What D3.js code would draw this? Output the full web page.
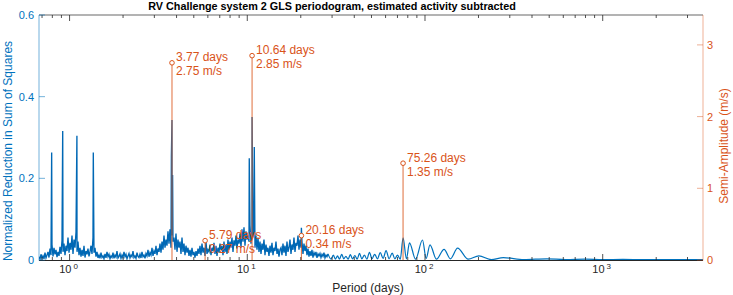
<!DOCTYPE html>
<html>
<head>
<meta charset="utf-8">
<script src="https://cdn.jsdelivr.net/npm/d3@7"></script>
<style>
  body { margin: 0; background: #fff; }
  text { font-family: 'Liberation Sans', Arial, Helvetica, sans-serif; }
</style>
</head>
<body>
<svg width="733" height="295"></svg>
<script>
'use strict'

// periodogram noise floor, thousandths, sampled evenly in log period
const noiseStart = 0.673,
  noiseEnd = 28.45
const noisePower = [
  8, 2, 14, 4, 10, 3, 18, 5, 12, 20,
  6, 28, 12, 38, 9, 30, 14, 25, 7, 20,
  10, 32, 15, 48, 20, 40, 12, 35, 22, 55,
  18, 42, 25, 60, 15, 50, 30, 68, 20, 45,
  12, 30, 8, 25, 10, 35, 6, 22, 14, 28,
  9, 20, 35, 15, 55, 18, 30, 8, 20, 5,
  12, 4, 18, 6, 10, 3, 15, 5, 20, 8,
  14, 3, 10, 6, 18, 4, 12, 7, 22, 5,
  9, 15, 4, 12, 6, 20, 8, 14, 3, 10,
  16, 5, 12, 8, 22, 6, 10, 4, 18, 9,
  6, 14, 5, 20, 8, 12, 4, 16, 10, 25,
  8, 18, 12, 30, 10, 22, 15, 35, 12, 28,
  20, 40, 18, 45, 25, 60, 30, 50, 35, 70,
  40, 75, 30, 60, 45, 55, 25, 65, 20, 50,
  30, 45, 15, 55, 20, 40, 12, 35, 18, 30,
  10, 25, 8, 30, 12, 20, 6, 22, 10, 28,
  15, 35, 12, 40, 18, 30, 10, 45, 15, 25,
  20, 38, 12, 30, 22, 42, 15, 35, 10, 30,
  18, 40, 25, 35, 12, 45, 20, 38, 15, 50,
  25, 45, 30, 55, 20, 48, 35, 60, 28, 50,
  40, 65, 30, 75, 45, 80, 35, 70, 50, 60,
  45, 85, 40, 70, 55, 80, 30, 60, 25, 55,
  20, 45, 15, 40, 25, 50, 12, 38, 20, 30,
  10, 35, 18, 42, 12, 30, 22, 45, 15, 28,
  8, 25, 30, 12, 40, 18, 35, 10, 45, 20,
  30, 50, 15, 38, 25, 55, 20, 42, 35, 60,
  25, 50, 30, 45, 15, 40, 22, 35, 12, 28,
  8, 22, 10, 25, 6, 18, 12, 20, 5, 15,
  10, 16, 6, 14, 9, 18, 5, 12, 8, 15
]

// narrow peaks in the periodogram
const spikePeriods = [0.793, 0.915, 1.10, 1.36, 3.74, 3.77, 3.80, 10.26, 10.64, 10.95, 20.16]
const spikePowers = [0.263, 0.316, 0.304, 0.263, 0.253, 0.343, 0.208, 0.249, 0.35, 0.277, 0.079]

// smooth long-period part (peaks and troughs)
const smoothPeriods = [
  28.45, 29.6, 30.5, 31.3, 32.2, 33.0, 34.0, 34.9, 35.9, 36.9, 38.0, 39.1,
  40.3, 41.5, 42.8, 44.1, 45.6, 47.1, 48.7, 50.3, 52.1, 54.0, 56.0, 58.1,
  60.4, 62.8, 65.4, 67.6, 70.0, 72.6, 75.3, 78.6, 81.8, 88.5, 96.8, 101.5,
  106.7, 116, 128, 139, 152.5, 175, 201, 236, 276, 360, 484, 620, 800,
  1000, 1300, 1700, 2200, 2900, 3667
]
const smoothPower = [
  15, 2, 12, 2, 10, 2, 14, 3, 9, 2, 13, 3,
  11, 2, 16, 3, 12, 2, 19, 3, 14, 3, 18, 4,
  23, 3, 17, 3, 12, 2, 54, 3, 42, 2, 49, 4,
  37, 2, 26, 3, 29, 2, 10, 1, 6, 1, 3, 1, 2,
  1, 1.5, 1, 1, 1, 1
]

// fitted signals
const stemPeriods = [3.77, 5.79, 10.64, 20.16, 75.26]
const stemAmps = [2.75, 0.27, 2.85, 0.34, 1.35]

const leftTicks = [0, 0.2, 0.4, 0.6]
const rightTicks = [0, 1, 2, 3]
const decades = [0, 1, 2, 3]

const blue = '#0072BD',
  orange = '#D95319',
  dark = '#262626'

const margin = { top: 15, right: 30, bottom: 35, left: 39 }
const W = 733,
  H = 295
const x0 = margin.left,
  x1 = W - margin.right,
  y0 = H - margin.bottom,
  y1 = margin.top

const svg = d3.select('svg')

const xScale = d3.scaleLog().domain([0.673, 3667]).range([x0, x1])
const yLeft = d3.scaleLinear().domain([0, 0.6]).range([y0, y1])
const yRight = d3.scaleLinear().domain([0, 3.417]).range([y0, y1])

svg.append('defs').append('clipPath').attr('id', 'clip')
  .append('rect').attr('x', x0).attr('y', y1).attr('width', x1 - x0).attr('height', y0 - y1)

// build noisy part
let noisy = noisePower.map((v, i) => {
  const t = i / (noisePower.length - 1)
  const p = Math.exp(Math.log(noiseStart) + t * (Math.log(noiseEnd) - Math.log(noiseStart)))
  return { p: p, v: v / 1000 }
})
spikePeriods.forEach((p, i) => noisy.push({ p: p, v: spikePowers[i] }))
noisy.sort((a, b) => a.p - b.p)

const smooth = smoothPeriods.map((p, i) => ({ p: p, v: smoothPower[i] / 1000 }))

const plot = svg.append('g').attr('clip-path', 'url(#clip)')

plot.append('path')
  .datum(noisy)
  .attr('fill', 'none')
  .attr('stroke', '#0068B5')
  .attr('stroke-width', 1.35)
  .attr('stroke-linejoin', 'miter')
  .attr('d', d3.line().x(d => xScale(d.p)).y(d => yLeft(d.v)))

plot.append('path')
  .datum(smooth)
  .attr('fill', 'none')
  .attr('stroke', blue)
  .attr('stroke-width', 1.2)
  .attr('d', d3.line().curve(d3.curveMonotoneX).x(d => xScale(d.p)).y(d => yLeft(d.v)))

// stems
const stems = svg.append('g')
stemPeriods.forEach((p, i) => {
  const sx = xScale(p),
    sy = yRight(stemAmps[i])
  stems.append('line')
    .attr('x1', sx).attr('x2', sx).attr('y1', y0).attr('y2', sy)
    .attr('stroke', orange).attr('stroke-width', 1).attr('stroke-opacity', 0.85)
  stems.append('circle')
    .attr('cx', sx).attr('cy', sy).attr('r', 2.3)
    .attr('fill', '#fff').attr('stroke', orange).attr('stroke-width', 1)
  const t = stems.append('text')
    .attr('fill', orange).attr('font-size', 12)
  t.append('tspan').attr('x', sx + 4).attr('y', sy - 1.5).text(p.toFixed(2) + ' days')
  t.append('tspan').attr('x', sx + 4).attr('y', sy + 12.5).text(stemAmps[i].toFixed(2) + ' m/s')
})

// x ticks
const minor = []
for (let k = -1; k <= 3; k++) {
  for (let m = 2; m <= 9; m++) {
    const v = m * Math.pow(10, k)
    if (v > 0.673 && v < 3667) minor.push(v)
  }
}
const axes = svg.append('g')
minor.forEach(v => {
  const tx = xScale(v)
  axes.append('line').attr('x1', tx).attr('x2', tx).attr('y1', y0).attr('y2', y0 - 3).attr('stroke', dark).attr('stroke-width', 0.8)
  axes.append('line').attr('x1', tx).attr('x2', tx).attr('y1', y1).attr('y2', y1 + 3).attr('stroke', dark).attr('stroke-width', 0.8)
})
decades.forEach(k => {
  const tx = xScale(Math.pow(10, k))
  axes.append('line').attr('x1', tx).attr('x2', tx).attr('y1', y0).attr('y2', y0 - 6).attr('stroke', dark).attr('stroke-width', 0.8)
  axes.append('line').attr('x1', tx).attr('x2', tx).attr('y1', y1).attr('y2', y1 + 6).attr('stroke', dark).attr('stroke-width', 0.8)
  const t = axes.append('text')
    .attr('x', tx - 1).attr('y', y0 + 12.5)
    .attr('text-anchor', 'middle').attr('font-size', 11).attr('fill', dark)
  t.append('tspan').text('10')
  t.append('tspan').attr('dx', 2).attr('dy', -4).attr('font-size', 8).text(k)
})

// box lines
axes.append('line').attr('x1', x0).attr('x2', x1).attr('y1', y0 + 0.5).attr('y2', y0 + 0.5).attr('stroke', dark).attr('stroke-width', 1)
axes.append('line').attr('x1', x0).attr('x2', x1).attr('y1', y1).attr('y2', y1).attr('stroke', dark).attr('stroke-width', 0.7)
axes.append('line').attr('x1', x0).attr('x2', x0).attr('y1', y1).attr('y2', y0 + 0.5).attr('stroke', blue).attr('stroke-opacity', 0.55)
axes.append('line').attr('x1', x1).attr('x2', x1).attr('y1', y1).attr('y2', y0 + 0.5).attr('stroke', orange).attr('stroke-opacity', 0.45)

// left y ticks
leftTicks.forEach(v => {
  const ty = yLeft(v)
  axes.append('line').attr('x1', x0).attr('x2', x0 + 6).attr('y1', ty).attr('y2', ty).attr('stroke', blue).attr('stroke-opacity', 0.55)
  axes.append('text').attr('x', x0 - 5).attr('y', ty + 4)
    .attr('text-anchor', 'end').attr('font-size', 11).attr('fill', blue)
    .text(v === 0 ? '0' : v.toFixed(1))
})

// right y ticks
rightTicks.forEach(v => {
  const ty = yRight(v)
  axes.append('line').attr('x1', x1).attr('x2', x1 - 6).attr('y1', ty).attr('y2', ty).attr('stroke', orange).attr('stroke-opacity', 0.45)
  axes.append('text').attr('x', x1 + 4).attr('y', ty + 4)
    .attr('text-anchor', 'start').attr('font-size', 11).attr('fill', orange)
    .text(v)
})

// titles
svg.append('text')
  .attr('x', 332).attr('y', 9.5)
  .attr('text-anchor', 'middle').attr('font-size', 10.8).attr('font-weight', 'bold').attr('fill', '#000')
  .text('RV Challenge system 2 GLS periodogram, estimated activity subtracted')

svg.append('text')
  .attr('x', 368).attr('y', 292)
  .attr('text-anchor', 'middle').attr('font-size', 12).attr('fill', dark)
  .text('Period (days)')

svg.append('text')
  .attr('transform', 'translate(12,151) rotate(-90)')
  .attr('text-anchor', 'middle').attr('font-size', 12).attr('fill', blue)
  .text('Normalized Reduction in Sum of Squares')

svg.append('text')
  .attr('transform', 'translate(728,146) rotate(-90)')
  .attr('text-anchor', 'middle').attr('font-size', 12).attr('fill', orange)
  .text('Semi-Amplitude (m/s)')
</script>
</body>
</html>
